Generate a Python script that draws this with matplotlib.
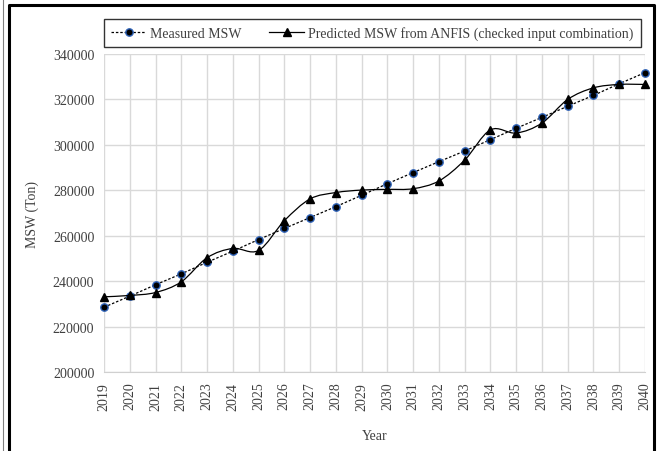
import numpy as np
import matplotlib
matplotlib.use("Agg")
from matplotlib import pyplot as plt
from matplotlib.path import Path
from matplotlib.patches import PathPatch
from matplotlib.lines import Line2D

years = list(range(2019, 2041))
measured = [228500, 233400, 238400, 243200, 248300, 253200, 258300, 263200, 268000,
            272800, 277800, 282900, 287800, 292600, 297300, 302300, 307300, 312100,
            317000, 321800, 326900, 331800]
predicted = [233100, 233700, 235000, 239700, 250300, 254400, 253500, 266600, 276200,
             279000, 280100, 280400, 280700, 284100, 293300, 306600, 305200, 309600,
             320000, 325100, 326600, 326600]

plt.rcParams['font.family'] = ['Liberation Serif', 'DejaVu Serif']
txt_color = '#404040'


def smooth_path(x, y):
    # excel-like smoothed line: catmull-rom converted to cubic bezier
    x = np.asarray(x, float)
    y = np.asarray(y, float)
    px = np.concatenate([[x[0]], x, [x[-1]]])
    py = np.concatenate([[y[0]], y, [y[-1]]])
    verts = [(x[0], y[0])]
    codes = [Path.MOVETO]
    for i in range(1, len(px) - 2):
        c1 = (px[i] + (px[i + 1] - px[i - 1]) / 6, py[i] + (py[i + 1] - py[i - 1]) / 6)
        c2 = (px[i + 1] - (px[i + 2] - px[i]) / 6, py[i + 1] - (py[i + 2] - py[i]) / 6)
        verts += [c1, c2, (px[i + 1], py[i + 1])]
        codes += [Path.CURVE4] * 3
    return Path(verts, codes)


fig = plt.figure(figsize=(6.57, 4.52), dpi=100)
ax = fig.add_axes([104 / 657, 1 - 373 / 452, (645 - 104) / 657, (373 - 55) / 452])

ax.plot(years, measured, linestyle=(0, (2, 1.5)), color='black', linewidth=0.9,
        marker='o', markersize=5.3, markerfacecolor='black',
        markeredgecolor='#2e62b8', markeredgewidth=1.0, zorder=3, clip_on=False)
ax.add_patch(PathPatch(smooth_path(years, predicted), facecolor='none',
                       edgecolor='black', linewidth=0.9, zorder=3, clip_on=False))
ax.plot(years, predicted, linestyle='none', marker='^', markersize=5.8,
        color='black', zorder=4, clip_on=False)

ax.set_xlim(2019, 2040)
ax.set_ylim(200000, 340000)
ax.set_xticks(years)
ax.set_xticklabels([str(y) for y in years], rotation=90, fontsize=10, color=txt_color)
ax.set_yticks(range(200000, 340001, 20000))
ax.set_yticklabels([str(v) for v in range(200000, 340001, 20000)], fontsize=10, color=txt_color)
ax.tick_params(length=0, pad=7)
ax.grid(True, color='#d9d9d9', linewidth=1)
ax.set_axisbelow(True)
for s in ax.spines.values():
    s.set_visible(False)
ax.spines['bottom'].set_visible(True)
ax.spines['bottom'].set_color('#d0d0d0')

ax.set_xlabel('Year', fontsize=10, color=txt_color, labelpad=14)
ax.set_ylabel('MSW (Ton)', fontsize=10, color=txt_color, labelpad=10)

handles = [
    Line2D([], [], linestyle=(0, (2, 1.5)), color='black', linewidth=0.9, marker='o',
           markersize=5.3, markerfacecolor='black', markeredgecolor='#2e62b8'),
    Line2D([], [], color='black', linewidth=0.9, marker='^', markersize=5.8),
]
leg = fig.legend(handles, ['Measured MSW', 'Predicted MSW from ANFIS (checked input combination)'],
                 loc='center', bbox_to_anchor=((102 + 643) / 2 / 657, 1 - 34 / 452),
                 ncol=2, fontsize=10, frameon=True, fancybox=False, handlelength=2.5,
                 columnspacing=2.0, handletextpad=0.3, borderpad=0.5)
leg.get_frame().set_edgecolor('black')
leg.get_frame().set_linewidth(1.0)
for t in leg.get_texts():
    t.set_color(txt_color)

# outer frame of the chart
fig.add_artist(Line2D([3 / 657, 3 / 657], [0, 1], color='#808080', linewidth=0.8))
fig.add_artist(Line2D([9 / 657, 9 / 657, 654 / 657, 654 / 657],
                      [0, 1 - 6 / 452, 1 - 6 / 452, 0], color='black', linewidth=2.2))

fig.savefig('out.png', dpi=100)
